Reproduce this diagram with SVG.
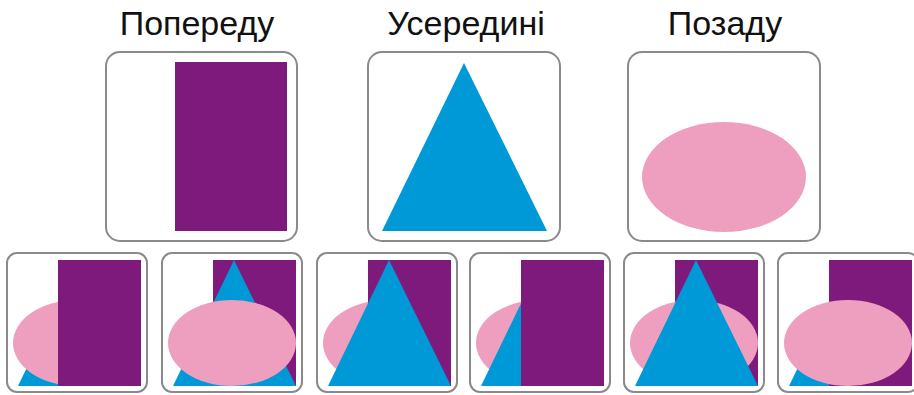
<svg xmlns="http://www.w3.org/2000/svg" width="914" height="395" viewBox="0 0 914 395">
<defs>
<style>
.title{font-family:"Liberation Sans",Arial,sans-serif;font-size:34px;fill:#111;text-anchor:middle}
.box{fill:#fff;stroke:#8a8a8a;stroke-width:2}
.rect{fill:#7e1a7b}
.tri{fill:#0099d8}
.ell{fill:#ee9fc0}
</style>
<rect id="sr" class="rect" x="51" y="260" width="83" height="126"/>
<polygon id="st" class="tri" points="72,260 134,386 11,386"/>
<ellipse id="se" class="ell" cx="70" cy="343" rx="64" ry="43"/>
</defs>
<rect width="914" height="395" fill="#fff"/>
<g id="title-front"><text class="title" x="197" y="35">Попереду</text></g>
<g id="title-middle"><text class="title" x="466" y="35">Усередині</text></g>
<g id="title-back"><text class="title" x="725" y="35">Позаду</text></g>
<g id="front">
<rect class="box" x="106" y="52" width="191" height="189" rx="14"/>
<rect class="rect" x="175" y="62" width="112" height="169"/>
</g>
<g id="middle">
<rect class="box" x="368" y="52" width="192" height="189" rx="14"/>
<polygon class="tri" points="464,63 547,231 382,231"/>
</g>
<g id="back">
<rect class="box" x="628" y="52" width="192" height="189" rx="14"/>
<ellipse class="ell" cx="724" cy="177" rx="82" ry="55"/>
</g>
<g id="combo1" transform="translate(7,0)">
<rect class="box" x="0" y="253" width="140" height="139" rx="10"/>
<use href="#st"/><use href="#se"/><use href="#sr"/>
</g>
<g id="combo2" transform="translate(162,0)">
<rect class="box" x="0" y="253" width="140" height="139" rx="10"/>
<use href="#sr"/><use href="#st"/><use href="#se"/>
</g>
<g id="combo3" transform="translate(317,0)">
<rect class="box" x="0" y="253" width="140" height="139" rx="10"/>
<use href="#se"/><use href="#sr"/><use href="#st"/>
</g>
<g id="combo4" transform="translate(470,0)">
<rect class="box" x="0" y="253" width="140" height="139" rx="10"/>
<use href="#se"/><use href="#st"/><use href="#sr"/>
</g>
<g id="combo5" transform="translate(624,0)">
<rect class="box" x="0" y="253" width="140" height="139" rx="10"/>
<use href="#sr"/><use href="#se"/><use href="#st"/>
</g>
<g id="combo6" transform="translate(778,0)">
<rect class="box" x="0" y="253" width="140" height="139" rx="10"/>
<use href="#st"/><use href="#sr"/><use href="#se"/>
</g>
</svg>
